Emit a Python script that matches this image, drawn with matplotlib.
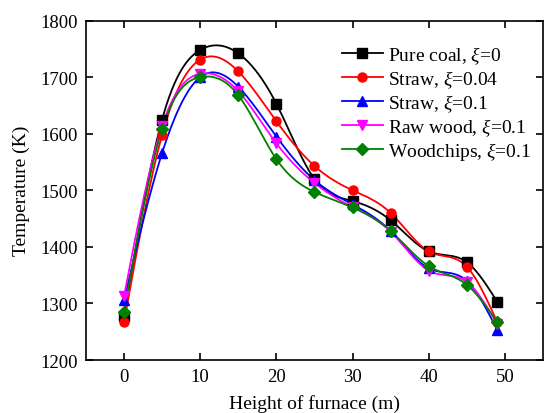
import numpy as np
import matplotlib
matplotlib.use("Agg")
import matplotlib.pyplot as plt

plt.rcParams['font.family'] = ['Liberation Serif', 'DejaVu Serif']
plt.rcParams['mathtext.fontset'] = 'custom'
plt.rcParams['mathtext.it'] = 'Liberation Serif:italic'
plt.rcParams['mathtext.rm'] = 'Liberation Serif'

height = [0, 5, 10, 15, 20, 25, 30, 35, 40, 45, 49]
pure_coal = [1278, 1625, 1748, 1742, 1653, 1520, 1481, 1447, 1392, 1373, 1303]
straw_004 = [1267, 1598, 1731, 1710, 1622, 1543, 1500, 1460, 1392, 1365, 1267]
straw_01 = [1306, 1566, 1700, 1683, 1595, 1518, 1475, 1428, 1362, 1340, 1253]
raw_wood = [1313, 1614, 1706, 1675, 1583, 1513, 1470, 1427, 1358, 1338, 1264]
woodchips = [1284, 1608, 1700, 1668, 1555, 1497, 1470, 1428, 1366, 1333, 1267]

labels = [r"Pure coal, $\xi$=0", r"Straw, $\xi$=0.04", r"Straw, $\xi$=0.1",
          r"Raw wood, $\xi$=0.1", r"Woodchips, $\xi$=0.1"]
colors = ['black', 'red', 'blue', 'magenta', 'green']
markers = ['s', 'o', '^', 'v', 'D']
series = [pure_coal, straw_004, straw_01, raw_wood, woodchips]


def natural_spline(x, y, n=300):
    x = np.asarray(x, float)
    y = np.asarray(y, float)
    m = len(x)
    h = np.diff(x)
    A = np.zeros((m, m))
    b = np.zeros(m)
    A[0, 0] = 1
    A[-1, -1] = 1
    for i in range(1, m - 1):
        A[i, i - 1] = h[i - 1]
        A[i, i] = 2 * (h[i - 1] + h[i])
        A[i, i + 1] = h[i]
        b[i] = 3 * ((y[i + 1] - y[i]) / h[i] - (y[i] - y[i - 1]) / h[i - 1])
    c = np.linalg.solve(A, b)
    xs = np.linspace(x[0], x[-1], n)
    ys = np.empty_like(xs)
    for k, xv in enumerate(xs):
        i = min(np.searchsorted(x, xv, side='right') - 1, m - 2)
        dx = xv - x[i]
        bi = (y[i + 1] - y[i]) / h[i] - h[i] * (2 * c[i] + c[i + 1]) / 3
        di = (c[i + 1] - c[i]) / (3 * h[i])
        ys[k] = y[i] + bi * dx + c[i] * dx ** 2 + di * dx ** 3
    return xs, ys


fig = plt.figure(figsize=(5.44, 4.14), dpi=100)
ax = fig.add_axes([0.158, 0.128, 0.84, 0.82])

for s, lab, col, mk in zip(series, labels, colors, markers):
    ms = 6.5 if mk != 'D' else 6
    xs, ys = natural_spline(height, s)
    ax.plot(xs, ys, color=col, lw=1.3, zorder=2)
    ax.plot(height, s, linestyle='none', marker=mk, color=col, ms=ms, zorder=3)
    ax.plot([], [], color=col, lw=1.3, marker=mk, ms=ms, label=lab)

ax.set_xlim(-5, 55)
ax.set_ylim(1200, 1800)
ax.set_xticks([0, 10, 20, 30, 40, 50])
ax.set_yticks([1200, 1300, 1400, 1500, 1600, 1700, 1800])
ax.tick_params(direction='in', top=True, right=True, labelsize=13.5, length=5, width=1.2, pad=6)
for sp in ax.spines.values():
    sp.set_linewidth(1.2)
ax.set_xlabel("Height of furnace (m)", fontsize=14, labelpad=6)
ax.set_ylabel("Temperature (K)", fontsize=14, labelpad=7)

ax.legend(loc='upper right', bbox_to_anchor=(1.005, 0.97), frameon=False, fontsize=14,
          handlelength=2.1, handletextpad=0.3, labelspacing=0.12, borderaxespad=0.3)

fig.savefig("out.png", dpi=100)
